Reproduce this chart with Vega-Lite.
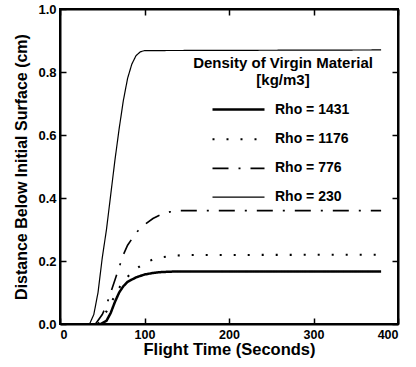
{
  "$schema": "https://vega.github.io/schema/vega-lite/v6.json",
  "width": 338,
  "height": 315,
  "autosize": "none",
  "padding": {"left": 60, "top": 9, "right": 18, "bottom": 43},
  "background": "white",
  "config": {
    "font": "Liberation Sans",
    "view": {"stroke": "black", "strokeWidth": 2},
    "axis": {
      "domainColor": "black", "domainWidth": 2, "tickColor": "black", "tickWidth": 1.5,
      "tickSize": -6, "grid": false, "labelFont": "Liberation Sans", "labelFontWeight": "bold",
      "labelColor": "black", "labelFontSize": 13, "titleFont": "Liberation Sans",
      "titleFontWeight": "bold", "titleColor": "black"
    }
  },
  "data": {
    "values": [
      {"series": "Rho = 1431", "t": 48, "d": 0},
      {"series": "Rho = 1431", "t": 55, "d": 0.01},
      {"series": "Rho = 1431", "t": 60, "d": 0.035},
      {"series": "Rho = 1431", "t": 65, "d": 0.07},
      {"series": "Rho = 1431", "t": 70, "d": 0.1},
      {"series": "Rho = 1431", "t": 75, "d": 0.12},
      {"series": "Rho = 1431", "t": 80, "d": 0.134},
      {"series": "Rho = 1431", "t": 90, "d": 0.148},
      {"series": "Rho = 1431", "t": 100, "d": 0.157},
      {"series": "Rho = 1431", "t": 110, "d": 0.162},
      {"series": "Rho = 1431", "t": 120, "d": 0.165},
      {"series": "Rho = 1431", "t": 140, "d": 0.167},
      {"series": "Rho = 1431", "t": 380, "d": 0.167},
      {"series": "Rho = 1176", "t": 45, "d": 0},
      {"series": "Rho = 1176", "t": 50, "d": 0.02},
      {"series": "Rho = 1176", "t": 55, "d": 0.04},
      {"series": "Rho = 1176", "t": 60, "d": 0.065},
      {"series": "Rho = 1176", "t": 65, "d": 0.09},
      {"series": "Rho = 1176", "t": 70, "d": 0.115},
      {"series": "Rho = 1176", "t": 80, "d": 0.15},
      {"series": "Rho = 1176", "t": 90, "d": 0.175},
      {"series": "Rho = 1176", "t": 100, "d": 0.193},
      {"series": "Rho = 1176", "t": 110, "d": 0.205},
      {"series": "Rho = 1176", "t": 120, "d": 0.212},
      {"series": "Rho = 1176", "t": 135, "d": 0.217},
      {"series": "Rho = 1176", "t": 150, "d": 0.219},
      {"series": "Rho = 1176", "t": 380, "d": 0.22},
      {"series": "Rho = 776", "t": 42, "d": 0},
      {"series": "Rho = 776", "t": 50, "d": 0.03},
      {"series": "Rho = 776", "t": 55, "d": 0.06},
      {"series": "Rho = 776", "t": 60, "d": 0.1},
      {"series": "Rho = 776", "t": 65, "d": 0.14},
      {"series": "Rho = 776", "t": 70, "d": 0.18},
      {"series": "Rho = 776", "t": 75, "d": 0.22},
      {"series": "Rho = 776", "t": 80, "d": 0.25},
      {"series": "Rho = 776", "t": 90, "d": 0.29},
      {"series": "Rho = 776", "t": 100, "d": 0.315},
      {"series": "Rho = 776", "t": 110, "d": 0.335},
      {"series": "Rho = 776", "t": 120, "d": 0.348},
      {"series": "Rho = 776", "t": 130, "d": 0.356},
      {"series": "Rho = 776", "t": 140, "d": 0.36},
      {"series": "Rho = 776", "t": 380, "d": 0.36},
      {"series": "Rho = 230", "t": 35, "d": 0},
      {"series": "Rho = 230", "t": 40, "d": 0.03},
      {"series": "Rho = 230", "t": 45, "d": 0.1},
      {"series": "Rho = 230", "t": 50, "d": 0.21},
      {"series": "Rho = 230", "t": 55, "d": 0.3},
      {"series": "Rho = 230", "t": 60, "d": 0.41},
      {"series": "Rho = 230", "t": 65, "d": 0.52},
      {"series": "Rho = 230", "t": 70, "d": 0.62},
      {"series": "Rho = 230", "t": 75, "d": 0.71},
      {"series": "Rho = 230", "t": 80, "d": 0.78},
      {"series": "Rho = 230", "t": 85, "d": 0.825},
      {"series": "Rho = 230", "t": 90, "d": 0.852},
      {"series": "Rho = 230", "t": 95, "d": 0.864},
      {"series": "Rho = 230", "t": 100, "d": 0.868},
      {"series": "Rho = 230", "t": 380, "d": 0.87}
    ]
  },
  "layer": [
    {
      "mark": {"type": "line", "color": "black"},
      "encoding": {
        "x": {"field": "t", "type": "quantitative", "scale": {"domain": [0, 400]},
              "axis": {"title": "Flight Time (Seconds)", "values": [0, 100, 200, 300, 400], "labelFontSize": 12.5, "titleFontSize": 16.5, "labelPadding": 10, "titlePadding": 1}},
        "y": {"field": "d", "type": "quantitative", "scale": {"domain": [0, 1]},
              "axis": {"title": "Distance Below Initial Surface (cm)", "values": [0, 0.2, 0.4, 0.6, 0.8, 1.0], "format": ".1f", "titleFontSize": 16, "labelPadding": 10, "titlePadding": 8}},
        "detail": {"field": "series"},
        "strokeDash": {"field": "series", "type": "nominal",
          "sort": ["Rho = 1431", "Rho = 1176", "Rho = 776", "Rho = 230"],
          "scale": {"domain": ["Rho = 1431", "Rho = 1176", "Rho = 776", "Rho = 230"], "range": [[1, 0], [2, 12], [16, 10, 2, 10], [1, 0]]},
          "legend": {
            "orient": "none", "legendX": 133, "legendY": 47,
            "title": ["Density of Virgin Material", "[kg/m3]"],
            "titleFontSize": 15, "titleFontWeight": "bold", "titleColor": "black", "titleAnchor": "middle", "titleAlign": "center",
            "titleLineHeight": 17,
            "titlePadding": 0, "labelFontSize": 14, "labelFontWeight": "bold", "labelColor": "black",
            "symbolType": "M-1.3,0H1.3", "symbolSize": 1600, "symbolStrokeColor": "black", "symbolFillColor": "transparent", "rowPadding": 0.7, "labelOffset": 15
          }},
        "strokeWidth": {"field": "series", "type": "nominal",
          "scale": {"domain": ["Rho = 1431", "Rho = 1176", "Rho = 776", "Rho = 230"], "range": [2.5, 1.2, 1.2, 1]},
          "legend": null}
      }
    },
    {
      "mark": {"type": "line", "opacity": 0},
      "encoding": {
        "x": {"field": "t", "type": "quantitative", "scale": {"domain": [0, 400]},
              "axis": {"orient": "top", "title": null, "labels": false, "values": [0, 100, 200, 300, 400]}},
        "y": {"field": "d", "type": "quantitative", "scale": {"domain": [0, 1]},
              "axis": {"orient": "right", "title": null, "labels": false, "values": [0, 0.2, 0.4, 0.6, 0.8, 1.0]}},
        "detail": {"field": "series"}
      }
    }
  ],
  "resolve": {"axis": {"x": "independent", "y": "independent"}}
}
